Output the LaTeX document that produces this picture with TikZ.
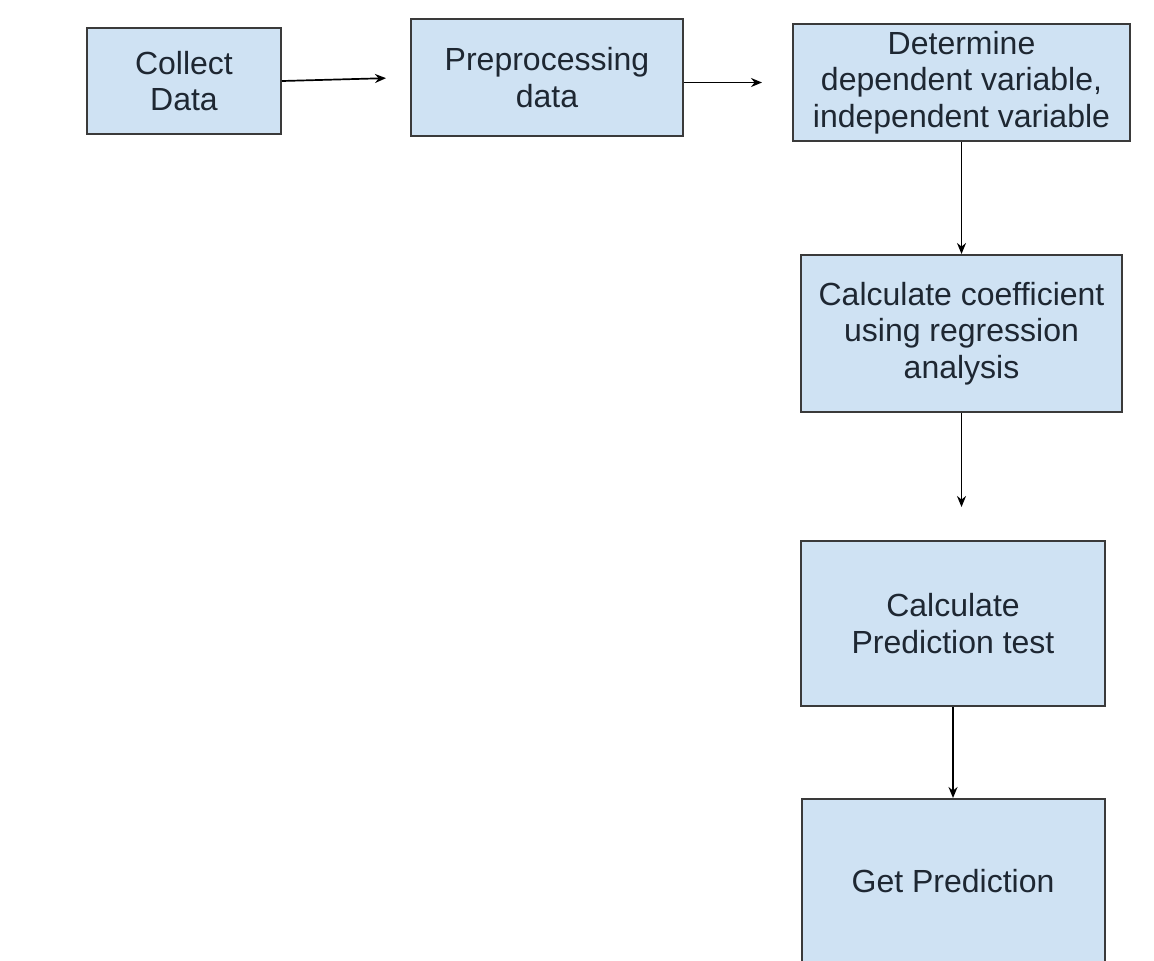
\documentclass[tikz,border=0pt]{standalone}
\usepackage{fontspec}
\setmainfont{Liberation Sans}
\usepackage{xcolor}
\usepackage{tikz}
\usetikzlibrary{shapes.geometric, arrows, arrows.meta, positioning}
\definecolor{boxblue}{HTML}{CFE2F3}
\definecolor{boxline}{HTML}{3A3A3A}
\definecolor{boxtext}{HTML}{1E2732}
\tikzstyle{process} = [rectangle, inner sep=2pt, text centered, align=center, draw=boxline, line width=1pt, fill=boxblue, text=boxtext, font=\fontsize{16}{18.25}\selectfont]
\tikzstyle{arrow} = [line width=0.85pt,->,>={Stealth[length=5.5pt,width=4.5pt]}]

\begin{document}
\begin{tikzpicture}
\useasboundingbox (0,0) rectangle (577pt,-480pt);
\clip (0,0) rectangle (577pt,-480pt);
\node (collect) [process, minimum width=97pt, minimum height=53pt] at (92pt,-40.5pt) {Collect\\Data};
\node (prep) [process, right=64pt of collect, yshift=1.75pt, minimum width=136pt, minimum height=58.5pt] {Preprocessing\\data};
\node (determine) [process, right=54pt of prep, yshift=-2.5pt, minimum width=168.5pt, minimum height=58.5pt] {Determine\\dependent variable,\\independent variable};
\node (coeff) [process, below=56pt of determine, minimum width=160.5pt, minimum height=78.5pt] {Calculate coefficient\\using regression\\analysis};
\node (predtest) [process, below=63.5pt of coeff, xshift=-4.25pt, minimum width=152pt, minimum height=82.5pt] {Calculate\\Prediction test};
\node (getpred) [process, below=45.5pt of predtest, minimum width=151.5pt, minimum height=82pt] {Get Prediction};

\draw [arrow, shorten >=12pt] (collect.east) -- (prep.west);
\draw [arrow, shorten >=15pt] (prep.east |- determine.west) -- (determine.west);
\draw [arrow] (determine) -- (coeff);
\draw [arrow, shorten >=16.5pt] (coeff.south) -- (coeff.south |- predtest.north);
\draw [arrow] (predtest) -- (getpred);
\end{tikzpicture}
\end{document}
